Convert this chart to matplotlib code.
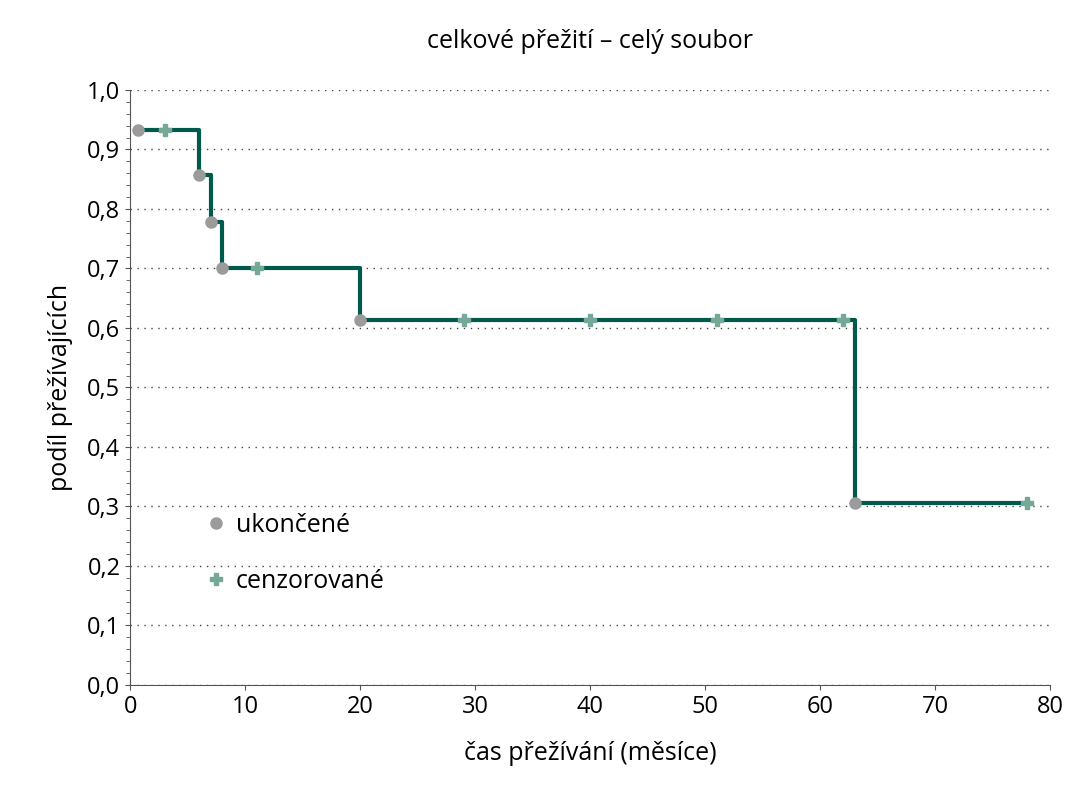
import matplotlib.pyplot as plt
from matplotlib.ticker import FuncFormatter, MultipleLocator

plt.rcParams["font.family"] = ["Open Sans", "DejaVu Sans"]

# step curve (time, survival)
step_times = [0.7, 6, 7, 8, 20, 63, 78]
step_surv = [0.933, 0.857, 0.778, 0.70, 0.613, 0.306, 0.306]

event_times = [0.7, 6, 7, 8, 20, 63]
event_surv = [0.933, 0.857, 0.778, 0.70, 0.613, 0.306]

censor_times = [3, 11, 29, 40, 51, 62, 78]
censor_surv = [0.933, 0.70, 0.613, 0.613, 0.613, 0.613, 0.306]

LINE = "#00594a"
EVENT = "#9b9b9b"
CENSOR = "#76a898"

fig = plt.figure(figsize=(10.85, 8.0), dpi=100)
ax = fig.add_axes([0.12, 0.144, 0.848, 0.7435])

ax.step(step_times, step_surv, where="post", color=LINE, linewidth=3, zorder=2)
ax.plot(event_times, event_surv, "o", color=EVENT, markersize=8, zorder=3,
        linestyle="none", label="ukončené")
ax.plot(censor_times, censor_surv, "P", color=CENSOR, markersize=9, zorder=3,
        linestyle="none", label="cenzorované")

ax.set_xlim(0, 80)
ax.set_ylim(0, 1.0)
ax.xaxis.set_major_locator(MultipleLocator(10))
ax.yaxis.set_major_locator(MultipleLocator(0.1))
ax.yaxis.set_minor_locator(MultipleLocator(0.02))
ax.yaxis.set_major_formatter(FuncFormatter(lambda v, _: f"{v:.1f}".replace(".", ",")))
ax.tick_params(labelsize=17, color="#555555", direction="out")
ax.tick_params(axis="y", which="minor", length=3, color="#555555")
ax.grid(axis="y", linestyle=(0, (1, 4)), color="#444444", linewidth=1)
for side in ("top", "right"):
    ax.spines[side].set_visible(False)
for side in ("left", "bottom"):
    ax.spines[side].set_color("#555555")

ax.set_xlabel("čas přežívání (měsíce)", fontsize=18, labelpad=16)
ax.set_ylabel("podíl přežívajících", fontsize=18, labelpad=10)
ax.set_title("celkové přežití – celý soubor", fontsize=18, pad=30)

ax.legend(loc="lower left", bbox_to_anchor=(0.055, 0.115), frameon=False,
          fontsize=18, handletextpad=0.3, labelspacing=1.25, handlelength=1)

fig.savefig("out.png")
